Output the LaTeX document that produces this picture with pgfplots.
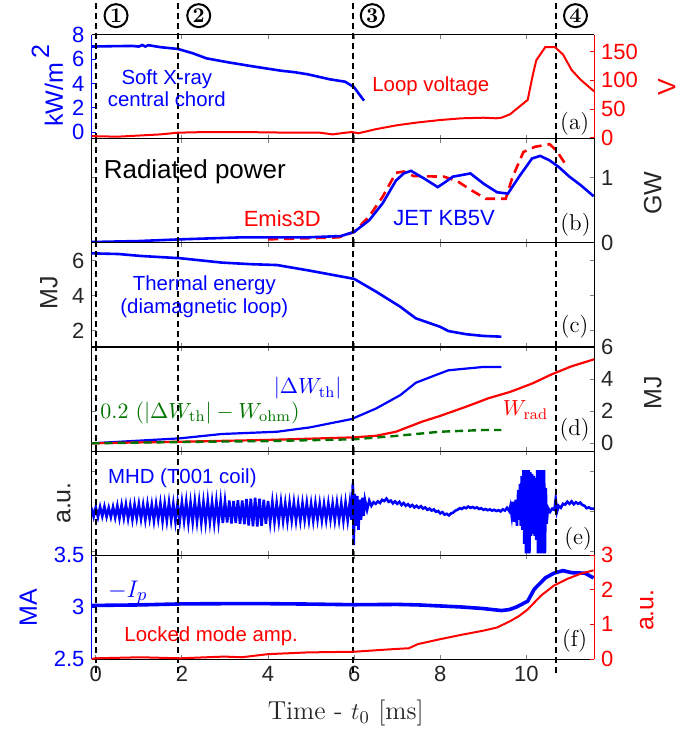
\documentclass[border=0pt]{standalone}
\usepackage{pgfplots}
\pgfplotsset{compat=1.18}
\usepackage{fontspec}
\newfontfamily\sansf{Liberation Sans}
\definecolor{mblue}{rgb}{0,0,1}
\definecolor{mred}{rgb}{1,0,0}
\definecolor{mgreen}{rgb}{0,0.45,0}
\definecolor{mgray}{rgb}{0.15,0.15,0.15}
\newcommand{\tickf}{\sansf\fontsize{11}{12}\selectfont}
\newcommand{\labf}{\sansf\fontsize{12.5}{14}\selectfont}
\newcommand{\annf}{\sansf\fontsize{10.2}{11.2}\selectfont}
\newcommand{\panf}{\fontsize{11.5}{12}\selectfont}
\pgfplotsset{
 panel/.style={scale only axis, width=251.25pt, height=52pt, anchor=north west,
   xmin=-0.1, xmax=11.57, xtick={0,2,4,6,8,10}, xticklabels={},
   tick align=inside, major tick length=2.2pt,
   axis line style={line width=0.5pt}, tick style={line width=0.5pt},
   ticklabel style={font=\tickf, text=mgray},
   /pgf/number format/assume math mode=true,
   ylabel style={font=\labf, text=mgray, anchor=center}},
 vline/.style={black, line width=1pt, dash pattern=on 3pt off 2pt, forget plot},
}
\tikzset{circ/.style={circle, draw, line width=1pt, minimum size=11.5pt, inner sep=0pt, font=\bfseries\fontsize{10.5}{10.5}\selectfont}}
\begin{document}
\begin{tikzpicture}
\path[use as bounding box] (0,0) rectangle (344.5pt,-365.5pt);
% ---------- panel (a) ----------
\begin{axis}[panel, at={(45.75pt,-17.5pt)}, ymin=-0.55, ymax=8, ytick={0,2,4,6,8},
  axis y line*=left, y axis line style={mblue}, y tick style={mblue},
  yticklabel style={text=mblue},
  ylabel={kW/m\,\raisebox{0.55em}{2}}, ylabel style={text=mblue, at={(rel axis cs:-0.088,0.51)}},
  clip=false]
\addplot[mblue, line width=1.3pt] coordinates {(-0.1,7.05) (0.4,7.08) (0.84,7.1) (1.0,7.05) (1.08,7.18) (1.15,7.05) (1.22,7.16) (1.5,7.0) (1.91,6.85) (2.25,6.5) (2.57,6.08) (3.08,5.75) (3.7,5.39) (4.31,5.06) (4.6,4.95) (4.92,4.77) (5.43,4.36) (5.79,4.16) (6.0,3.7) (6.1,3.21) (6.23,2.6)};
\addplot[vline] coordinates {(0,-0.55) (0,10.8)};
\addplot[vline] coordinates {(1.92,-0.55) (1.92,10.8)};
\addplot[vline] coordinates {(5.98,-0.55) (5.98,10.8)};
\addplot[vline] coordinates {(10.69,-0.55) (10.69,10.8)};
\node[circ] at (axis cs:0.47,9.59) {1};
\node[circ] at (axis cs:2.39,9.59) {2};
\node[circ] at (axis cs:6.42,9.59) {3};
\node[circ] at (axis cs:11.14,9.59) {4};
\node[font=\annf, text=mblue, align=center] at (axis cs:1.65,3.64) {Soft X-ray\\central chord};
\node[font=\annf, text=mred] at (axis cs:7.78,3.81) {Loop voltage};
\node[font=\panf] at (axis cs:11.12,0.74) {(a)};
\end{axis}
\begin{axis}[panel, at={(45.75pt,-17.5pt)}, ymin=-2, ymax=178.9, ytick={0,50,100,150},
  axis y line*=right, axis x line=none, y axis line style={mred}, y tick style={mred},
  yticklabel style={text=mred},
  ylabel={V}, ylabel style={text=mred, at={(rel axis cs:1.145,0.5)}}]
\addplot[mred, line width=1pt] coordinates {(-0.1,3) (0.5,2) (1.0,4) (1.5,6) (1.91,9) (2.5,10) (3.5,10) (4.5,9) (5.2,9) (5.5,6) (5.8,9) (5.95,10) (6.1,8) (6.5,15) (7.0,22) (7.5,27) (8.0,31) (8.5,34) (9.0,35) (9.3,34) (9.42,35) (9.62,41) (9.8,52) (10.03,66) (10.15,110) (10.23,135) (10.44,158) (10.66,158) (10.85,145) (11.05,118) (11.26,101) (11.57,81)};
\end{axis}
% ---------- panel (b) ----------
\begin{axis}[panel, at={(45.75pt,-69.5pt)}, ymin=0, ymax=1.6, ytick={0,1},
  ytick pos=both, yticklabel pos=right,
  ylabel={GW}, ylabel style={at={(rel axis cs:1.117,0.48)}}]
\addplot[mred, line width=1.3pt, dash pattern=on 5pt off 3pt] coordinates {(4.0,0.056) (5.64,0.087) (6.0,0.17) (6.35,0.41) (6.66,0.71) (6.97,1.08) (7.15,1.1) (7.38,1.03) (8.09,1.02) (8.4,0.95) (8.7,0.82) (9.06,0.68) (9.52,0.68) (9.67,1.0) (9.93,1.40) (10.2,1.48) (10.54,1.52) (10.7,1.42) (10.95,1.17)};
\addplot[mblue, line width=1.3pt] coordinates {(-0.1,0.015) (1.0,0.03) (1.96,0.056) (3.39,0.087) (4.92,0.087) (5.69,0.107) (6.0,0.17) (6.35,0.35) (6.66,0.61) (6.97,0.96) (7.15,1.07) (7.32,1.11) (7.63,0.99) (7.94,0.86) (8.1,0.93) (8.29,1.02) (8.7,1.07) (9.01,0.91) (9.32,0.78) (9.57,0.76) (9.83,1.02) (10.13,1.30) (10.32,1.34) (10.54,1.27) (10.75,1.17) (11.0,1.02) (11.26,0.89) (11.56,0.72)};
\addplot[vline] coordinates {(0,0) (0,1.6)};
\addplot[vline] coordinates {(1.92,0) (1.92,1.6)};
\addplot[vline] coordinates {(5.98,0) (5.98,1.6)};
\addplot[vline] coordinates {(10.69,0) (10.69,1.6)};
\node[font=\sansf\fontsize{13}{14}\selectfont] at (axis cs:2.3,1.10) {Radiated power};
\node[font=\sansf\fontsize{11}{12}\selectfont, text=mred] at (axis cs:4.33,0.38) {Emis3D};
\node[font=\sansf\fontsize{11}{12}\selectfont, text=mblue] at (axis cs:8.09,0.38) {JET KB5V};
\node[font=\panf] at (axis cs:11.14,0.28) {(b)};
\end{axis}
% ---------- panel (c) ----------
\begin{axis}[panel, at={(45.75pt,-121.5pt)}, ymin=1.07, ymax=7.01, ytick={2,4,6},
  ylabel={MJ}, ylabel style={at={(rel axis cs:-0.085,0.52)}}]
\addplot[mblue, line width=1.3pt] coordinates {(-0.1,6.42) (0.53,6.38) (1.04,6.27) (1.96,6.14) (2.93,5.89) (3.6,5.8) (4.21,5.75) (4.97,5.43) (6.0,4.96) (6.51,4.23) (7.07,3.37) (7.43,2.71) (7.99,2.23) (8.19,1.98) (8.6,1.8) (9.01,1.70) (9.42,1.66)};
\addplot[vline] coordinates {(0,1.07) (0,7.01)};
\addplot[vline] coordinates {(1.92,1.07) (1.92,7.01)};
\addplot[vline] coordinates {(5.98,1.07) (5.98,7.01)};
\addplot[vline] coordinates {(10.69,1.07) (10.69,7.01)};
\node[font=\annf, text=mblue, align=center] at (axis cs:2.52,3.94) {Thermal energy\\(diamagnetic loop)};
\node[font=\panf] at (axis cs:11.12,2.23) {(c)};
\end{axis}
% ---------- panel (d) ----------
\begin{axis}[panel, at={(45.75pt,-173.5pt)}, ymin=-0.48, ymax=6, ytick={0,2,4,6},
  ytick pos=both, yticklabel pos=right,
  ylabel={MJ}, ylabel style={at={(rel axis cs:1.117,0.56)}}]
\addplot[mblue, line width=1.1pt] coordinates {(-0.1,0.0) (1.04,0.17) (1.96,0.31) (2.93,0.58) (4.21,0.72) (4.97,0.99) (5.94,1.51) (6.51,2.17) (7.07,3.0) (7.43,3.77) (7.99,4.35) (8.19,4.55) (9.01,4.76) (9.42,4.76)};
\addplot[mred, line width=1.1pt] coordinates {(-0.1,0.0) (1.96,0.1) (4.0,0.21) (6.0,0.37) (6.51,0.47) (6.97,0.72) (7.58,1.35) (7.99,1.7) (8.6,2.28) (9.11,2.8) (9.62,3.2) (10.13,3.72) (10.59,4.3) (11.05,4.8) (11.57,5.23)};
\addplot[mgreen, line width=1.2pt, dash pattern=on 4pt off 2.5pt] coordinates {(-0.1,0.0) (1.96,0.08) (4.0,0.14) (6.0,0.25) (6.97,0.46) (7.99,0.72) (9.01,0.83) (9.42,0.83)};
\addplot[vline] coordinates {(0,-0.48) (0,6)};
\addplot[vline] coordinates {(1.92,-0.48) (1.92,6)};
\addplot[vline] coordinates {(5.98,-0.48) (5.98,6)};
\addplot[vline] coordinates {(10.69,-0.48) (10.69,6)};
\node[font=\fontsize{11}{12}\selectfont, text=mblue] at (axis cs:4.92,3.43) {$|\Delta W_{\rm th}|$};
\node[font=\fontsize{11}{12}\selectfont, text=mgreen] at (axis cs:2.42,1.91) {$0.2\ (|\Delta W_{\rm th}|-W_{\rm ohm})$};
\node[font=\fontsize{11}{12}\selectfont, text=mred] at (axis cs:9.98,2.07) {$W_{\rm rad}$};
\node[font=\panf] at (axis cs:11.12,0.83) {(d)};
\end{axis}
% ---------- panel (e) ----------
\begin{axis}[panel, at={(45.75pt,-225.5pt)}, ymin=-1.08, ymax=1.52, ytick={-1,0,1}, yticklabels={},
  ylabel={a.u.}, ylabel style={at={(rel axis cs:-0.055,0.5)}}]
\addplot[mblue, line width=1.3pt] coordinates {
(-0.10,0.10) (-0.05,-0.12) (0.00,0.11) (0.05,-0.13) (0.10,0.12) (0.15,-0.11) (0.20,0.13) (0.25,-0.12) (0.30,0.10) (0.35,-0.13)
(0.40,0.12) (0.45,-0.14) (0.50,0.15) (0.55,-0.16) (0.60,0.17) (0.65,-0.15) (0.70,0.18) (0.75,-0.17) (0.80,0.16) (0.85,-0.19)
(0.90,0.18) (0.95,-0.16) (1.00,0.19) (1.05,-0.18) (1.10,0.17) (1.15,-0.20) (1.20,0.19) (1.25,-0.17) (1.30,0.18) (1.35,-0.22)
(1.40,0.19) (1.45,-0.18) (1.50,0.21) (1.55,-0.23) (1.60,0.20) (1.65,-0.22) (1.70,0.23) (1.75,-0.21) (1.80,0.20) (1.85,-0.24)
(1.90,0.22) (1.95,-0.23) (2.00,0.24) (2.05,-0.22) (2.10,0.25) (2.15,-0.26) (2.20,0.23) (2.25,-0.25) (2.30,0.26) (2.35,-0.24)
(2.40,0.25) (2.45,-0.27) (2.50,0.24) (2.55,-0.26) (2.60,0.27) (2.65,-0.25) (2.70,0.24) (2.75,-0.27) (2.80,0.26) (2.85,-0.25)
(2.90,0.27) (2.95,-0.28) (3.00,0.26) (3.05,-0.27) (3.10,0.28) (3.15,-0.29) (3.20,0.27) (3.25,-0.28) (3.30,0.29) (3.35,-0.30)
(3.40,0.28) (3.45,-0.31) (3.50,0.32) (3.55,-0.34) (3.60,0.33) (3.65,-0.36) (3.70,0.35) (3.75,-0.37) (3.80,0.33) (3.85,-0.35)
(3.90,0.30) (3.95,-0.30) (4.00,0.27) (4.05,-0.26) (4.10,0.24) (4.15,-0.25) (4.20,0.22) (4.25,-0.23) (4.30,0.24) (4.35,-0.22)
(4.40,0.21) (4.45,-0.23) (4.50,0.22) (4.55,-0.21) (4.60,0.23) (4.65,-0.22) (4.70,0.20) (4.75,-0.22) (4.80,0.21) (4.85,-0.20)
(4.90,0.22) (4.95,-0.21) (5.00,0.20) (5.05,-0.22) (5.10,0.21) (5.15,-0.19) (5.20,0.20) (5.25,-0.21) (5.30,0.19) (5.35,-0.20)
(5.40,0.21) (5.45,-0.19) (5.50,0.20) (5.55,-0.21) (5.60,0.22) (5.65,-0.20) (5.70,0.21) (5.75,-0.22) (5.80,0.23) (5.85,-0.21)
(5.90,0.24) (5.94,-0.20) (5.97,0.72) (5.99,-0.83) (6.01,0.45) (6.04,-0.35) (6.07,0.40) (6.10,-0.45) (6.13,0.30) (6.16,-0.20)
(6.19,0.35) (6.22,-0.10) (6.25,0.30) (6.30,0.05) (6.35,0.28) (6.40,0.15) (6.45,0.24) (6.50,0.20) (6.55,0.26) (6.60,0.22)
(6.65,0.30) (6.70,0.27) (6.75,0.33) (6.80,0.25) (6.85,0.28) (6.90,0.21) (6.95,0.26) (7.00,0.20) (7.05,0.25) (7.10,0.17)
(7.15,0.22) (7.20,0.15) (7.25,0.19) (7.30,0.13) (7.35,0.17) (7.40,0.11) (7.45,0.15) (7.50,0.10) (7.55,0.14) (7.60,0.08)
(7.65,0.11) (7.70,0.05) (7.75,0.08) (7.80,0.03) (7.85,0.06) (7.90,0.00) (7.95,0.02) (8.00,-0.04) (8.05,-0.01) (8.10,-0.07)
(8.15,-0.05) (8.20,-0.09) (8.25,-0.04) (8.30,-0.02) (8.35,0.03) (8.40,0.05) (8.45,0.09) (8.50,0.07) (8.55,0.11) (8.60,0.09)
(8.65,0.13) (8.70,0.10) (8.75,0.12) (8.80,0.09) (8.85,0.11) (8.90,0.07) (8.95,0.09) (9.00,0.05) (9.05,0.07) (9.10,0.04)
(9.15,0.06) (9.20,0.03) (9.25,0.05) (9.30,0.02) (9.35,0.04) (9.40,0.01) (9.45,0.06) (9.50,0.03) (9.55,0.10) (9.60,0.02)
(9.63,0.15) (9.66,-0.10) (9.69,0.25) (9.72,-0.25) (9.75,0.30) (9.78,-0.35) (9.81,0.55) (9.83,-0.20) (9.85,0.70) (9.87,-0.35)
(9.89,0.90) (9.91,-0.45) (9.93,1.04) (9.95,-0.80) (9.97,1.04) (9.99,-1.04) (10.01,1.04) (10.03,-1.04) (10.05,1.04) (10.07,-1.04)
(10.09,1.00) (10.11,-0.60) (10.13,0.95) (10.15,-0.55) (10.17,0.90) (10.19,-0.60) (10.21,0.85) (10.23,-0.70) (10.25,1.04) (10.27,-1.04)
(10.29,1.04) (10.31,-1.04) (10.33,1.04) (10.35,-1.04) (10.37,1.04) (10.39,-1.04) (10.41,1.04) (10.43,-1.04) (10.45,0.60) (10.47,-0.30)
(10.50,0.10) (10.55,0.00) (10.60,0.08) (10.65,0.05) (10.68,0.32) (10.71,0.00) (10.75,0.15) (10.80,0.10) (10.85,0.20) (10.90,0.18)
(10.95,0.25) (11.00,0.20) (11.05,0.26) (11.10,0.19) (11.15,0.24) (11.20,0.20) (11.25,0.23) (11.30,0.17) (11.35,0.15) (11.40,0.09)
(11.45,0.11) (11.50,0.08) (11.57,0.08)};
\addplot[vline] coordinates {(0,-1.08) (0,1.52)};
\addplot[vline] coordinates {(1.92,-1.08) (1.92,1.52)};
\addplot[vline] coordinates {(5.98,-1.08) (5.98,1.52)};
\addplot[vline] coordinates {(10.69,-1.08) (10.69,1.52)};
\node[font=\annf, text=mblue] at (axis cs:2.01,0.83) {MHD (T001 coil)};
\node[font=\panf] at (axis cs:11.2,-0.67) {(e)};
\end{axis}
% ---------- panel (f) ----------
\begin{axis}[panel, at={(45.75pt,-277.5pt)}, ymin=2.5, ymax=3.5, ytick={2.5,3,3.5},
  xticklabels={0,2,4,6,8,10},
  axis y line*=left, y axis line style={mblue}, y tick style={mblue},
  yticklabel style={text=mblue},
  ylabel={MA}, ylabel style={text=mblue, at={(rel axis cs:-0.126,0.49)}},
  xlabel={Time - $t_0$ [ms]}, xlabel style={font=\fontsize{13}{14}\selectfont, text=mgray, at={(rel axis cs:0.506,-0.52)}, anchor=center},
  clip=false]
\addplot[mblue, line width=1.8pt] coordinates {(-0.1,3.015) (1,3.02) (2,3.03) (3,3.032) (4,3.032) (5,3.028) (6,3.022) (7,3.025) (7.5,3.02) (8,3.01) (8.5,3.0) (9,2.985) (9.42,2.966) (9.6,2.975) (9.77,3.0) (10.03,3.056) (10.18,3.17) (10.44,3.28) (10.64,3.325) (10.85,3.35) (11.05,3.33) (11.36,3.325) (11.56,3.28)};
\addplot[vline] coordinates {(0,2.37) (0,3.5)};
\addplot[vline] coordinates {(1.92,2.37) (1.92,3.5)};
\addplot[vline] coordinates {(5.98,2.37) (5.98,3.5)};
\addplot[vline] coordinates {(10.69,2.37) (10.69,3.5)};
\node[font=\fontsize{13}{14}\selectfont, text=mblue] at (axis cs:0.74,3.14) {$-I_p$};
\node[font=\annf, text=mred] at (axis cs:2.68,2.72) {Locked mode amp.};
\node[font=\panf] at (axis cs:11.12,2.68) {(f)};
\end{axis}
\begin{axis}[panel, at={(45.75pt,-277.5pt)}, ymin=0, ymax=3, ytick={0,1,2,3},
  axis y line*=right, axis x line=none, y axis line style={mred}, y tick style={mred},
  yticklabel style={text=mred},
  ylabel={a.u.}, ylabel style={text=mred, at={(rel axis cs:1.105,0.47)}}]
\addplot[mred, line width=1pt] coordinates {(-0.1,0.0) (0.0,0.02) (1.04,0.05) (1.96,0.02) (2.98,0.07) (3.39,0.05) (4.0,0.14) (4.92,0.19) (6.0,0.21) (6.97,0.29) (7.27,0.31) (7.48,0.43) (7.99,0.57) (8.5,0.70) (9.01,0.82) (9.32,0.91) (9.62,1.09) (9.83,1.24) (10.03,1.43) (10.34,1.83) (10.64,2.12) (10.95,2.31) (11.26,2.46) (11.56,2.56)};
\end{axis}
\end{tikzpicture}
\end{document}
